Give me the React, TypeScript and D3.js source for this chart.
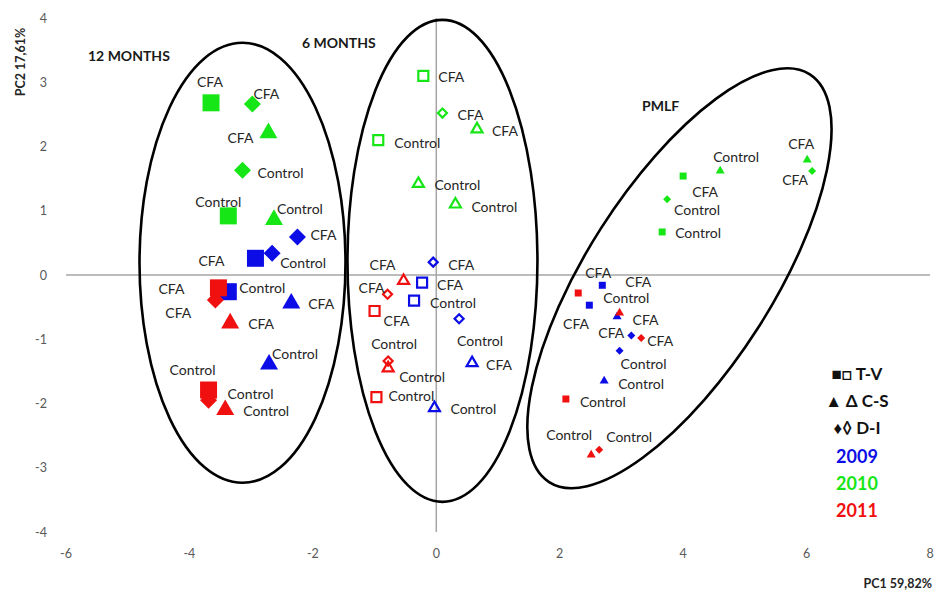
import React from "react";
import * as d3 from "d3";

// ---------- data ----------
const years = ["2009", "2010", "2011"];
const methods = ["T-V", "C-S", "D-I"];
const xTicks = [-6, -4, -2, 0, 2, 4, 6, 8];
const yTicks = [4, 3, 2, 1, 0, -1, -2, -3, -4];
const groupNames = ["12 MONTHS", "6 MONTHS", "PMLF"];
const legendMethods = ["■□ T-V", "▲ Δ C-S", "♦◊ D-I"];

type Pt = { year: string; method: string; label: string; pc1: number; pc2: number };

const months12: Pt[] = [
  { year: "2010", method: "T-V", label: "CFA", pc1: -3.65, pc2: 2.68 },
  { year: "2010", method: "D-I", label: "CFA", pc1: -2.98, pc2: 2.66 },
  { year: "2010", method: "C-S", label: "CFA", pc1: -2.72, pc2: 2.21 },
  { year: "2010", method: "D-I", label: "Control", pc1: -3.14, pc2: 1.63 },
  { year: "2010", method: "T-V", label: "Control", pc1: -3.37, pc2: 0.92 },
  { year: "2010", method: "C-S", label: "Control", pc1: -2.63, pc2: 0.86 },
  { year: "2009", method: "D-I", label: "CFA", pc1: -2.25, pc2: 0.59 },
  { year: "2009", method: "T-V", label: "CFA", pc1: -2.93, pc2: 0.26 },
  { year: "2009", method: "D-I", label: "Control", pc1: -2.66, pc2: 0.34 },
  { year: "2009", method: "T-V", label: "Control", pc1: -3.37, pc2: -0.26 },
  { year: "2009", method: "C-S", label: "CFA", pc1: -2.35, pc2: -0.44 },
  { year: "2009", method: "C-S", label: "Control", pc1: -2.71, pc2: -1.39 },
  { year: "2011", method: "T-V", label: "CFA", pc1: -3.53, pc2: -0.2 },
  { year: "2011", method: "D-I", label: "CFA", pc1: -3.58, pc2: -0.39 },
  { year: "2011", method: "C-S", label: "CFA", pc1: -3.34, pc2: -0.75 },
  { year: "2011", method: "T-V", label: "Control", pc1: -3.69, pc2: -1.79 },
  { year: "2011", method: "D-I", label: "Control", pc1: -3.69, pc2: -1.95 },
  { year: "2011", method: "C-S", label: "Control", pc1: -3.42, pc2: -2.1 },
];

const months6: Pt[] = [
  { year: "2010", method: "T-V", label: "CFA", pc1: -0.21, pc2: 3.1 },
  { year: "2010", method: "D-I", label: "CFA", pc1: 0.1, pc2: 2.52 },
  { year: "2010", method: "C-S", label: "CFA", pc1: 0.66, pc2: 2.27 },
  { year: "2010", method: "T-V", label: "Control", pc1: -0.94, pc2: 2.1 },
  { year: "2010", method: "C-S", label: "Control", pc1: -0.29, pc2: 1.42 },
  { year: "2010", method: "C-S", label: "Control", pc1: 0.31, pc2: 1.1 },
  { year: "2009", method: "D-I", label: "CFA", pc1: -0.05, pc2: 0.2 },
  { year: "2009", method: "T-V", label: "CFA", pc1: -0.23, pc2: -0.12 },
  { year: "2009", method: "T-V", label: "Control", pc1: -0.36, pc2: -0.4 },
  { year: "2009", method: "D-I", label: "Control", pc1: 0.37, pc2: -0.68 },
  { year: "2009", method: "C-S", label: "CFA", pc1: 0.58, pc2: -1.37 },
  { year: "2009", method: "C-S", label: "Control", pc1: -0.03, pc2: -2.07 },
  { year: "2011", method: "C-S", label: "CFA", pc1: -0.53, pc2: -0.09 },
  { year: "2011", method: "D-I", label: "CFA", pc1: -0.79, pc2: -0.3 },
  { year: "2011", method: "T-V", label: "CFA", pc1: -1.0, pc2: -0.56 },
  { year: "2011", method: "D-I", label: "Control", pc1: -0.78, pc2: -1.34 },
  { year: "2011", method: "C-S", label: "Control", pc1: -0.78, pc2: -1.45 },
  { year: "2011", method: "T-V", label: "Control", pc1: -0.97, pc2: -1.9 },
];

const pmlf: Pt[] = [
  { year: "2010", method: "T-V", label: "CFA", pc1: 4.0, pc2: 1.54 },
  { year: "2010", method: "C-S", label: "Control", pc1: 4.6, pc2: 1.62 },
  { year: "2010", method: "D-I", label: "Control", pc1: 3.74, pc2: 1.18 },
  { year: "2010", method: "T-V", label: "Control", pc1: 3.66, pc2: 0.67 },
  { year: "2010", method: "C-S", label: "CFA", pc1: 6.01, pc2: 1.79 },
  { year: "2010", method: "D-I", label: "CFA", pc1: 6.09, pc2: 1.62 },
  { year: "2009", method: "T-V", label: "CFA", pc1: 2.69, pc2: -0.16 },
  { year: "2009", method: "T-V", label: "Control", pc1: 2.48, pc2: -0.47 },
  { year: "2009", method: "C-S", label: "CFA", pc1: 2.93, pc2: -0.65 },
  { year: "2009", method: "D-I", label: "CFA", pc1: 3.16, pc2: -0.94 },
  { year: "2009", method: "D-I", label: "Control", pc1: 2.97, pc2: -1.18 },
  { year: "2009", method: "C-S", label: "Control", pc1: 2.72, pc2: -1.65 },
  { year: "2011", method: "T-V", label: "CFA", pc1: 2.3, pc2: -0.28 },
  { year: "2011", method: "C-S", label: "CFA", pc1: 2.97, pc2: -0.59 },
  { year: "2011", method: "D-I", label: "CFA", pc1: 3.32, pc2: -0.98 },
  { year: "2011", method: "T-V", label: "Control", pc1: 2.1, pc2: -1.93 },
  { year: "2011", method: "C-S", label: "Control", pc1: 2.51, pc2: -2.8 },
  { year: "2011", method: "D-I", label: "Control", pc1: 2.64, pc2: -2.72 },
];

// ---------- layout / style ----------
const W = 935;
const H = 591;
const FONT = "Lato, 'Open Sans', sans-serif";
const yearColor: Record<string, string> = { "2009": "#0c0ce6", "2010": "#16e616", "2011": "#f01010" };
const labelColor = "#262626";

// label offsets (px, from marker centre to label left / vertical middle)
const off12 = [
  [-14, -21], [1, -11], [-41, 4], [15, 2], [-33, -14], [3, -11],
  [13, -3], [-57, 2], [8, 9], [11, -4], [17, 0], [3, -11],
  [-60, 1], [-50, 12], [18, 0], [-39, -21], [19, -7], [18, 1],
];
const off6 = [
  [15, 1], [15, 1], [15, 1], [16, 2], [16, 1], [16, 2],
  [15, 2], [15, 2], [16, 2], [-2, 22], [14, 1], [16, 1],
  [-34, -16], [-29, -7], [9, 10], [-17, -18], [11, 8], [12, -2],
];
const offP = [
  [9, 15], [-7, -14], [7, 10], [13, 1], [-19, -16], [-30, 9],
  [23, -4], [14, -8], [-54, 7], [-33, -3], [1, 13], [14, 2],
  [7, -20], [13, 7], [6, 3], [14, 2], [-45, -20], [7, -13],
];

// marker widths per group: [square, triangle, diamond]
const groupStyle = [
  { pts: months12, offs: off12, filled: true, sq: 17, tri: 18, dia: 17, sw: 0 },
  { pts: months6, offs: off6, filled: false, sq: 10, tri: 11, dia: 9, sw: 2.2 },
  { pts: pmlf, offs: offP, filled: true, sq: 7, tri: 9, dia: 8, sw: 0 },
];

const ellipses = [
  { cx: -3.14, cy: 0.19, rx: 103, ry: 220, angle: 0 },
  { cx: 0.1, cy: 0.22, rx: 95, ry: 241, angle: 0 },
  { cx: 3.94, cy: -0.05, rx: 242, ry: 93, angle: -57.4 },
];
const groupTitlePos = [
  [88, 55],
  [302, 42],
  [642, 105],
];

const x = d3.scaleLinear().domain([-6, 8]).range([66, 930]);
const y = d3.scaleLinear().domain([-4, 4]).range([532, 18]);

function symbolPath(method: string, s: { sq: number; tri: number; dia: number }) {
  if (method === "T-V") return d3.symbol(d3.symbolSquare, s.sq * s.sq)()!;
  if (method === "C-S") {
    const yy = s.tri / (2 * Math.sqrt(3));
    return d3.symbol(d3.symbolTriangle, yy * yy * 3 * Math.sqrt(3))()!;
  }
  const r = s.dia / 2;
  const size = (r / 0.62625) ** 2;
  return d3.symbol(d3.symbolDiamond2, size)()!;
}

export default function App() {
  const order = (p: Pt) => years.indexOf(p.year);
  return (
    <div style={{ position: "absolute", left: 0, top: 0 }}>
      <svg width={W} height={H} style={{ display: "block", background: "#fff" }} fontFamily={FONT}>
        {/* axes */}
        <line x1={x(-6)} x2={x(8)} y1={y(0)} y2={y(0)} stroke="#a6a6a6" strokeWidth={1.5} />
        <line x1={x(0)} x2={x(0)} y1={y(4)} y2={y(-4)} stroke="#a6a6a6" strokeWidth={1.5} />
        {yTicks.map((t) => (
          <text key={"yt" + t} x={47} y={y(t)} textAnchor="end" dominantBaseline="central" fontSize={12.5} fill="#595959">
            {t}
          </text>
        ))}
        {xTicks.map((t) => (
          <text key={"xt" + t} x={x(t)} y={553} textAnchor="middle" dominantBaseline="central" fontSize={12.5} fill="#595959">
            {t}
          </text>
        ))}
        <text x={932} y={583} textAnchor="end" dominantBaseline="central" fontSize={12.5} fontWeight="bold" fill="#262626">
          PC1 59,82%
        </text>
        <text
          transform={`translate(20,62) rotate(-90)`}
          textAnchor="middle"
          dominantBaseline="central"
          fontSize={12.5}
          fontWeight="bold"
          fill="#262626"
        >
          PC2 17,61%
        </text>

        {/* ellipses */}
        {ellipses.map((e, i) => (
          <ellipse
            key={"el" + i}
            cx={0}
            cy={0}
            rx={e.rx}
            ry={e.ry}
            transform={`translate(${x(e.cx)},${y(e.cy)}) rotate(${e.angle})`}
            fill="none"
            stroke="#000"
            strokeWidth={2.6}
          />
        ))}

        {/* group titles */}
        {groupNames.map((g, i) => (
          <text
            key={g}
            x={groupTitlePos[i][0]}
            y={groupTitlePos[i][1]}
            dominantBaseline="central"
            fontSize={14}
            fontWeight="bold"
            fill="#1a1a1a"
          >
            {g}
          </text>
        ))}

        {/* points */}
        {groupStyle.map((gs, gi) => {
          const idx = gs.pts.map((_, i) => i).sort((a, b) => order(gs.pts[a]) - order(gs.pts[b]));
          return (
            <g key={"g" + gi}>
              {idx.map((i) => {
                const p = gs.pts[i];
                const c = yearColor[p.year];
                return (
                  <path
                    key={"m" + i}
                    d={symbolPath(p.method, gs)}
                    transform={`translate(${x(p.pc1)},${y(p.pc2)})`}
                    fill={gs.filled ? c : "none"}
                    stroke={gs.filled ? "none" : c}
                    strokeWidth={gs.sw}
                  />
                );
              })}
              {gs.pts.map((p, i) => (
                <text
                  key={"l" + i}
                  x={x(p.pc1) + gs.offs[i][0]}
                  y={y(p.pc2) + gs.offs[i][1]}
                  dominantBaseline="central"
                  fontSize={14}
                  fill={labelColor}
                >
                  {p.label}
                </text>
              ))}
            </g>
          );
        })}

        {/* legend */}
        {legendMethods.map((m, i) => (
          <text
            key={m}
            x={857}
            y={373 + i * 27}
            textAnchor="middle"
            dominantBaseline="central"
            fontSize={17}
            fontWeight="bold"
            fill="#111"
          >
            {m}
          </text>
        ))}
        {years.map((yr, i) => (
          <text
            key={yr}
            x={857}
            y={456 + i * 27}
            textAnchor="middle"
            dominantBaseline="central"
            fontSize={18}
            fontWeight="bold"
            fill={yearColor[yr]}
          >
            {yr}
          </text>
        ))}
      </svg>
    </div>
  );
}
